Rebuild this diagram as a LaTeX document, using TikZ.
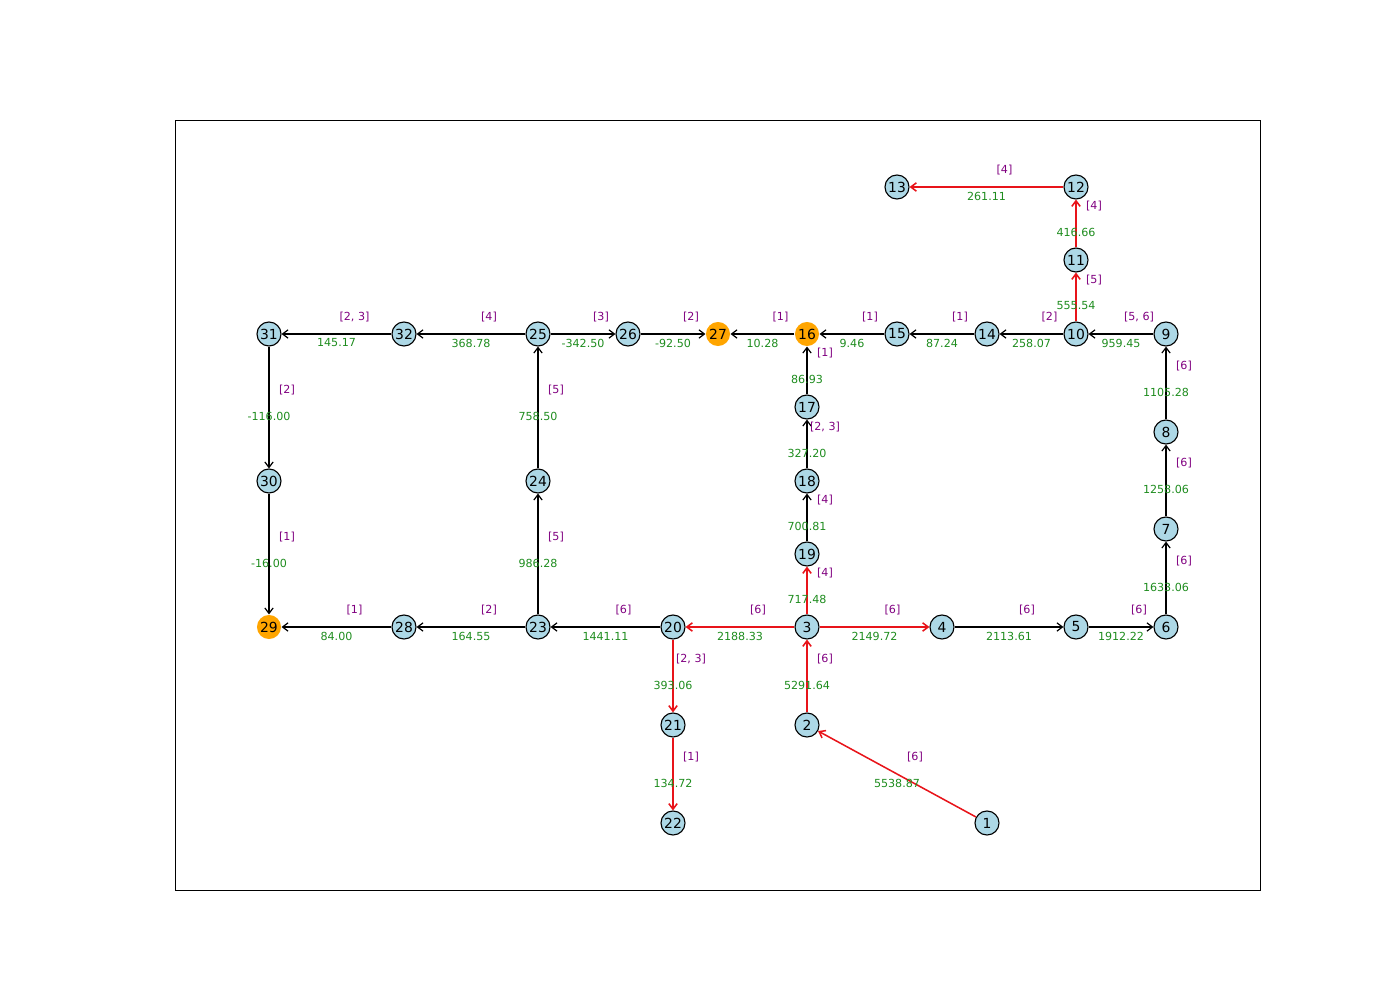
\documentclass[tikz,border=0pt]{standalone}
\usepackage{fontspec}
\setmainfont{DejaVu Sans}
\usetikzlibrary{arrows.meta,calc}
\definecolor{lb}{HTML}{ADD8E6}
\definecolor{orng}{HTML}{FFA500}
\definecolor{gn}{HTML}{1E8C1E}
\definecolor{pu}{HTML}{800080}
\definecolor{rd}{HTML}{E8141A}
\newcommand\edg[5]{\draw[#5] (#1) -- (#2);
  \path ($(#1)!0.5!(#2)$) +(0,9) node[gl]{#3} +(18,-17) node[pl]{#4};}
\begin{document}
\begin{tikzpicture}[x=0.72pt,y=-0.72pt,
  nd/.style={circle,draw=black,line width=0.8pt,fill=lb,minimum size=17.3pt,inner sep=0pt,font=\fontsize{10}{12}\selectfont},
  hub/.style={nd,draw=none,fill=orng},
  ed/.style={draw=black,line width=0.85pt,-{Straight Barb[length=4pt,width=6pt]}},
  re/.style={ed,draw=rd,line width=1.1pt},
  gl/.style={text=gn,font=\fontsize{8}{9.6}\selectfont,inner sep=0pt},
  pl/.style={text=pu,font=\fontsize{8}{9.6}\selectfont,inner sep=0pt}]
\useasboundingbox (0,0) rectangle (1400,1000);
\draw[line width=0.6pt] (175,120) rectangle (1260,890);
% nodes
\node[nd] (n1) at (987,823) {1};
\node[nd] (n2) at (807,725) {2};
\node[nd] (n3) at (807,627) {3};
\node[nd] (n4) at (942,627) {4};
\node[nd] (n5) at (1076,627) {5};
\node[nd] (n6) at (1166,627) {6};
\node[nd] (n7) at (1166,529) {7};
\node[nd] (n8) at (1166,432) {8};
\node[nd] (n9) at (1166,334) {9};
\node[nd] (n10) at (1076,334) {10};
\node[nd] (n11) at (1076,260) {11};
\node[nd] (n12) at (1076,187) {12};
\node[nd] (n13) at (897,187) {13};
\node[nd] (n14) at (987,334) {14};
\node[nd] (n15) at (897,334) {15};
\node[hub] (n16) at (807,334) {16};
\node[nd] (n17) at (807,407) {17};
\node[nd] (n18) at (807,481) {18};
\node[nd] (n19) at (807,554) {19};
\node[nd] (n20) at (673,627) {20};
\node[nd] (n21) at (673,725) {21};
\node[nd] (n22) at (673,823) {22};
\node[nd] (n23) at (538,627) {23};
\node[nd] (n24) at (538,481) {24};
\node[nd] (n25) at (538,334) {25};
\node[nd] (n26) at (628,334) {26};
\node[hub] (n27) at (718,334) {27};
\node[nd] (n28) at (404,627) {28};
\node[hub] (n29) at (269,627) {29};
\node[nd] (n30) at (269,481) {30};
\node[nd] (n31) at (269,334) {31};
\node[nd] (n32) at (404,334) {32};
% edges
\edg{n1}{n2}{5538.87}{[6]}{re}
\edg{n2}{n3}{5291.64}{[6]}{re}
\edg{n3}{n20}{2188.33}{[6]}{re}
\edg{n3}{n4}{2149.72}{[6]}{re}
\edg{n3}{n19}{717.48}{[4]}{re}
\edg{n4}{n5}{2113.61}{[6]}{ed}
\edg{n5}{n6}{1912.22}{[6]}{ed}
\edg{n6}{n7}{1633.06}{[6]}{ed}
\edg{n7}{n8}{1258.06}{[6]}{ed}
\edg{n8}{n9}{1105.28}{[6]}{ed}
\edg{n9}{n10}{959.45}{[5, 6]}{ed}
\edg{n10}{n14}{258.07}{[2]}{ed}
\edg{n10}{n11}{555.54}{[5]}{re}
\edg{n11}{n12}{416.66}{[4]}{re}
\edg{n12}{n13}{261.11}{[4]}{re}
\edg{n14}{n15}{87.24}{[1]}{ed}
\edg{n15}{n16}{9.46}{[1]}{ed}
\edg{n16}{n27}{10.28}{[1]}{ed}
\edg{n17}{n16}{86.93}{[1]}{ed}
\edg{n18}{n17}{327.20}{[2, 3]}{ed}
\edg{n19}{n18}{700.81}{[4]}{ed}
\edg{n20}{n23}{1441.11}{[6]}{ed}
\edg{n20}{n21}{393.06}{[2, 3]}{re}
\edg{n21}{n22}{134.72}{[1]}{re}
\edg{n23}{n28}{164.55}{[2]}{ed}
\edg{n23}{n24}{986.28}{[5]}{ed}
\edg{n24}{n25}{758.50}{[5]}{ed}
\edg{n25}{n32}{368.78}{[4]}{ed}
\edg{n25}{n26}{-342.50}{[3]}{ed}
\edg{n26}{n27}{-92.50}{[2]}{ed}
\edg{n28}{n29}{84.00}{[1]}{ed}
\edg{n32}{n31}{145.17}{[2, 3]}{ed}
\edg{n31}{n30}{-116.00}{[2]}{ed}
\edg{n30}{n29}{-16.00}{[1]}{ed}
\end{tikzpicture}
\end{document}
